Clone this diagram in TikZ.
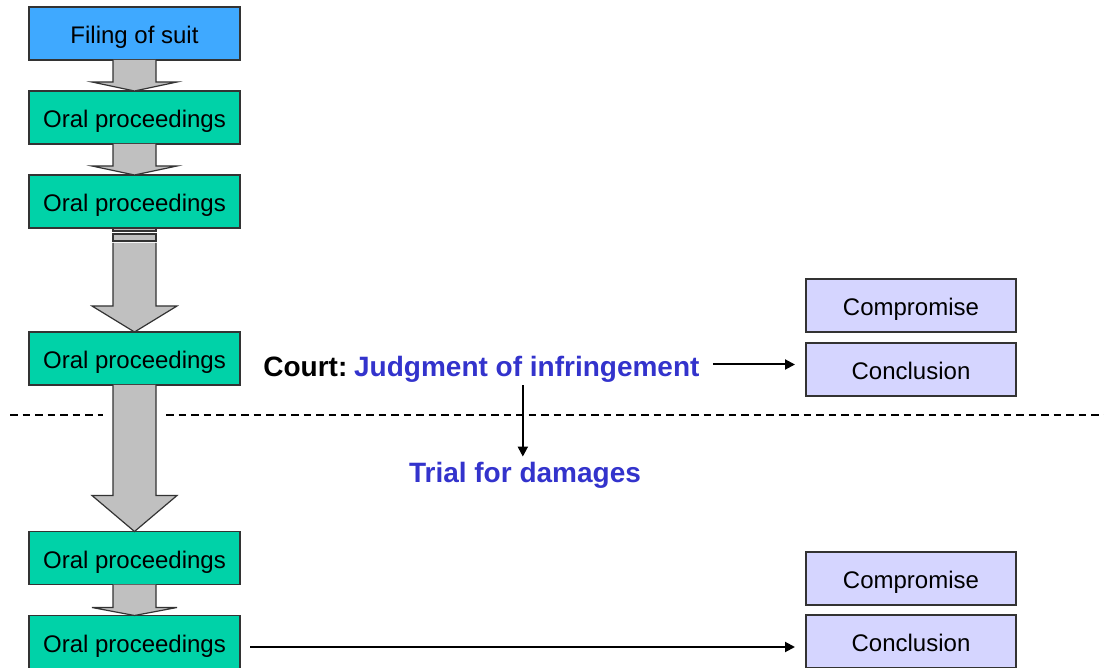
\documentclass[tikz,border=0pt]{standalone}
\usepackage{fontspec}
\setmainfont{Liberation Sans}
\usetikzlibrary{arrows.meta, positioning, calc}

\definecolor{filingblue}{HTML}{3FA9FF}
\definecolor{stepgreen}{HTML}{00D2A8}
\definecolor{flowgray}{HTML}{C0C0C0}
\definecolor{outcomeblue}{HTML}{D5D5FF}
\definecolor{courtblue}{HTML}{3333CC}

% block arrow: tail point, target node, head length
\newcommand{\flowarrow}[3]{%
  \draw[flow] ($#1+(-21.5,0)$) -- ($(#2.north)+(-21.5,-#3)$) -- ($(#2.north)+(-42.5,-#3)$)
    -- (#2.north) -- ($(#2.north)+(42.5,-#3)$) -- ($(#2.north)+(21.5,-#3)$) -- ($#1+(21.5,0)$);
}

\begin{document}
\begin{tikzpicture}[
    x=0.5pt, y=-0.5pt,
    stepbox/.style={draw=black!80, line width=0.6pt, fill=stepgreen, minimum width=105.5pt, minimum height=26.5pt, inner sep=0pt, outer sep=0pt, text height=12pt, text depth=2pt, font=\fontsize{12}{14}\selectfont},
    outcome/.style={stepbox, fill=outcomeblue, minimum width=105pt},
    flow/.style={draw=black!80, fill=flowgray, line width=0.6pt},
    arrow/.style={-{Triangle[length=5pt, width=5pt]}, line width=1pt},
    verdict/.style={inner sep=0pt, text height=10.5pt, text depth=3pt, font=\fontsize{14}{16}\selectfont\bfseries},
    node distance=15.5pt
]
    \useasboundingbox (0,0) rectangle (1104,668);

    % Procedure column
    \node[stepbox, fill=filingblue] (filing) at (134.5,33.5) {Filing of suit};
    \node[stepbox] (oral1) at (134.5,117.5) {Oral proceedings};
    \node[stepbox] (oral2) at (134.5,201.5) {Oral proceedings};
    \node[stepbox] (oral3) at (134.5,358.5) {Oral proceedings};
    \node[stepbox] (oral4) at (134.5,558) {Oral proceedings};
    \node[stepbox] (oral5) at (134.5,642) {Oral proceedings};

    % Outcomes
    \node[outcome] (concl1) at (911,369.5) {Conclusion};
    \node[outcome, above=5.5pt of concl1] (comp1) {Compromise};
    \node[outcome] (concl2) at (911,641.5) {Conclusion};
    \node[outcome, above=5pt of concl2] (comp2) {Compromise};

    % Block arrows down the column
    \flowarrow{(filing.south)}{oral1}{9}
    \flowarrow{(oral1.south)}{oral2}{9}
    \draw[flow] ($(oral2.south)+(-21.5,0)$) rectangle ($(oral2.south)+(21.5,3)$);
    \draw[flow] ($(oral2.south)+(-21.5,6)$) rectangle ($(oral2.south)+(21.5,13)$);
    \coordinate (oral2tail) at ($(oral2.south)+(0,15)$);
    \flowarrow{(oral2tail)}{oral3}{26}
    \flowarrow{(oral3.south)}{oral4}{36}
    \flowarrow{(oral4.south)}{oral5}{8}

    % Separator
    \draw[line width=0.9pt, dash pattern=on 3.75pt off 2.5pt] (10,415) -- (103,415) (166,415) -- (1104,415);

    % Judgment and damages
    \node[verdict, anchor=west] (court) at (263,369.5) {Court:};
    \node[verdict, text=courtblue, right=3pt of court] (judg) {Judgment of infringement};
    \node[verdict, text=courtblue] (trial) at (525,474.5) {Trial for damages};
    \coordinate (judgout) at ($(judg.east)+(0,-5)$);

    \draw[arrow, shorten <=6.5pt, shorten >=5.5pt] (judgout) -- (judgout -| concl1.west);
    \draw[arrow, shorten <=1pt, shorten >=2pt] ($(judg.south)+(-4,0)$) -- ($(judg.south |- trial.north)+(-4,0)$);
    \draw[arrow, shorten <=5pt, shorten >=5.5pt] ($(oral5.east)+(0,5)$) -- ($(oral5.east -| concl2.west)+(0,5)$);
\end{tikzpicture}
\end{document}
